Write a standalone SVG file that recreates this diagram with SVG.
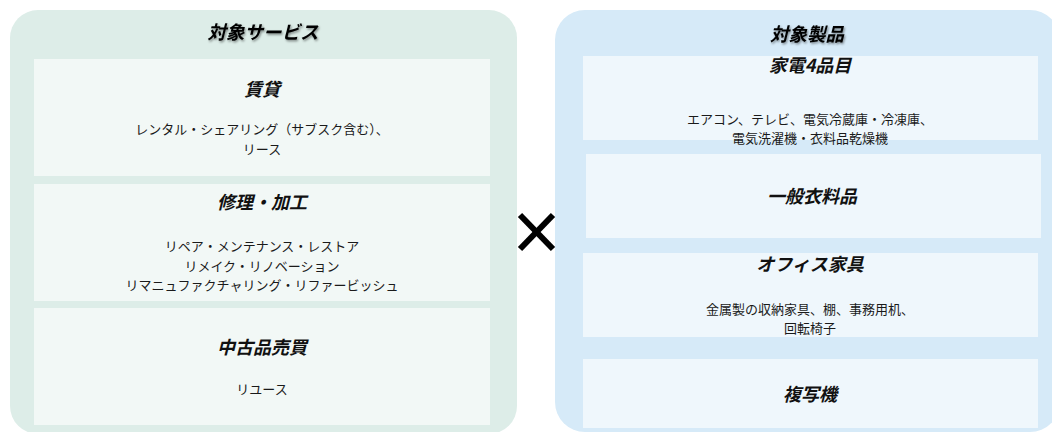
<svg xmlns="http://www.w3.org/2000/svg" width="1052" height="432" viewBox="0 0 1052 432">
  <defs>
    <filter id="shadow" x="-10%" y="-30%" width="130%" height="180%">
      <feDropShadow dx="1" dy="1.5" stdDeviation="1.2" flood-color="#000" flood-opacity="0.45"/>
    </filter>
  </defs>
  <style>
    .panel-l { fill: #ddede8; }
    .panel-r { fill: #d6eaf8; }
    .box-l { fill: #f2f8f6; }
    .box-r { fill: #eff7fc; }
    text { font-family: "Noto Sans CJK JP", "Noto Sans", sans-serif; text-anchor: middle; }
    .ptitle { font-size: 18.5px; font-weight: bold; font-style: italic; fill: #000; }
    .title { font-size: 18px; font-weight: bold; font-style: italic; fill: #111; }
    .body { font-size: 13px; fill: #1a1a1a; }
  </style>

  <g id="services">
    <rect class="panel-l" x="10" y="10" width="507" height="424" rx="28"/>
    <text class="ptitle" x="263" y="39" filter="url(#shadow)">対象サービス</text>
  </g>

  <g id="rental">
    <rect class="box-l" x="34" y="59" width="456" height="117"/>
    <text class="title" x="262" y="96">賃貸</text>
    <text class="body" x="262" y="134">レンタル・シェアリング（サブスク含む）、</text>
    <text class="body" x="262" y="154">リース</text>
  </g>

  <g id="repair">
    <rect class="box-l" x="34" y="184" width="456" height="117"/>
    <text class="title" x="262" y="209">修理・加工</text>
    <text class="body" x="262" y="251">リペア・メンテナンス・レストア</text>
    <text class="body" x="262" y="270.5">リメイク・リノベーション</text>
    <text class="body" x="262" y="290">リマニュファクチャリング・リファービッシュ</text>
  </g>

  <g id="used">
    <rect class="box-l" x="34" y="308" width="456" height="117"/>
    <text class="title" x="262" y="354">中古品売買</text>
    <text class="body" x="262" y="394">リユース</text>
  </g>

  <g id="products">
    <rect class="panel-r" x="555" y="10" width="505" height="422" rx="30"/>
    <text class="ptitle" x="807" y="41" filter="url(#shadow)">対象製品</text>
  </g>

  <g id="appliances">
    <rect class="box-r" x="583" y="56" width="455" height="84"/>
    <text class="title" x="810" y="72">家電4品目</text>
    <text class="body" x="810" y="124">エアコン、テレビ、電気冷蔵庫・冷凍庫、</text>
    <text class="body" x="810" y="143">電気洗濯機・衣料品乾燥機</text>
  </g>

  <g id="clothing">
    <rect class="box-r" x="586" y="154" width="455" height="84"/>
    <text class="title" x="812" y="203">一般衣料品</text>
  </g>

  <g id="office-furniture">
    <rect class="box-r" x="583" y="253" width="455" height="84"/>
    <text class="title" x="810" y="271">オフィス家具</text>
    <text class="body" x="810" y="314">金属製の収納家具、棚、事務用机、</text>
    <text class="body" x="810" y="333">回転椅子</text>
  </g>

  <g id="copier">
    <rect class="box-r" x="583" y="359" width="455" height="69"/>
    <text class="title" x="810" y="401">複写機</text>
  </g>

  <g id="connectors">
    <g id="times-sign" stroke="#000" stroke-width="6" stroke-linecap="butt">
      <line x1="520" y1="215" x2="553" y2="249"/>
      <line x1="553" y1="215" x2="520" y2="249"/>
    </g>
  </g>
</svg>
